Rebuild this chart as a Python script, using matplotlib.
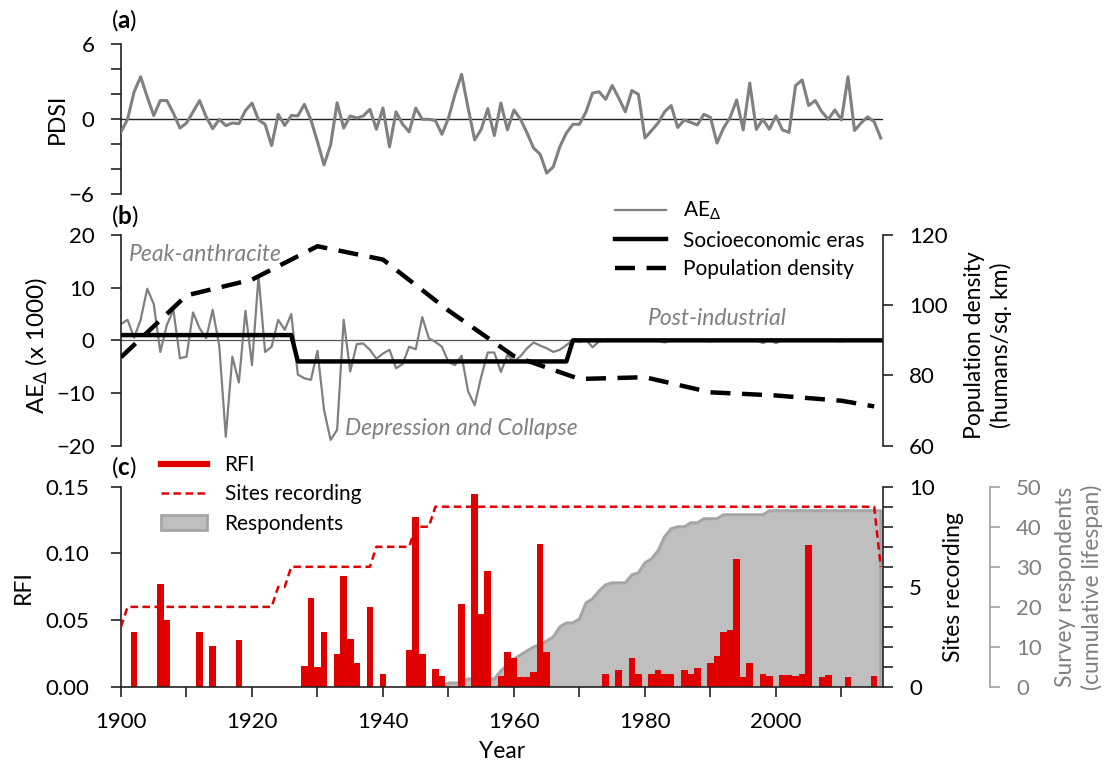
import numpy as np
import matplotlib
matplotlib.use("Agg")
import matplotlib.pyplot as plt
from matplotlib.lines import Line2D
from matplotlib.patches import Patch
from matplotlib.ticker import FixedLocator, MultipleLocator, FormatStrFormatter

plt.rcParams["font.family"] = ["Lato", "DejaVu Sans"]
plt.rcParams["mathtext.fontset"] = "custom"
plt.rcParams["mathtext.rm"] = "Lato"
plt.rcParams["mathtext.bf"] = "Lato:bold"
plt.rcParams["mathtext.it"] = "Lato:italic"

# ----------------------------------------------------
# Data
# ----------------------------------------------------
years = np.arange(1900, 2017)

pdsi = [
    -1.0, 0.0, 2.2, 3.4, 1.8, 0.3, 1.5, 1.5, 0.5, -0.7,          # 1900s
    -0.3, 0.6, 1.5, 0.2, -0.75, 0.0, -0.5, -0.3, -0.35, 0.7,     # 1910s
    1.3, -0.05, -0.4, -2.1, 0.4, -0.5, 0.3, 0.27, 1.2, -0.05,    # 1920s
    -1.8, -3.65, -2.05, 1.33, -0.7, 0.27, 0.1, 0.27, 0.8, -0.8,  # 1930s
    0.9, -2.2, 0.6, -0.4, -1.0, 0.9, 0.0, 0.0, -0.1, -1.2,       # 1940s
    0.1, 2.0, 3.6, 0.9, -1.65, -0.8, 0.85, -1.3, 1.3, -0.85,     # 1950s
    0.75, 0.0, -1.1, -2.3, -2.8, -4.3, -3.8, -2.2, -1.1, -0.4,   # 1960s
    -0.4, 0.6, 2.1, 2.2, 1.6, 2.7, 1.7, 0.6, 2.3, 2.0,           # 1970s
    -1.5, -0.9, -0.3, 0.6, 1.1, -0.65, -0.05, -0.25, -0.45, 0.4, # 1980s
    0.15, -1.9, -0.7, 0.15, 1.55, -0.85, 2.9, -0.8, 0.0, -0.8,   # 1990s
    0.27, -0.85, -1.05, 2.7, 3.15, 1.1, 1.5, 0.6, 0.0, 0.75,     # 2000s
    -0.05, 3.4, -0.9, -0.3, 0.2, -0.2, -1.5,                     # 2010s
]

ae = [
    3.1, 3.9, 0.5, 3.9, 9.8, 6.9, -2.2, 2.9, 5.8, -3.4,          # 1900s
    -3.1, 5.3, 2.3, 0.4, 5.8, -1.0, -18.3, -3.1, -8.0, 5.6,      # 1910s
    -4.7, 12.2, -2.2, -1.2, 3.9, 2.0, 5.0, -6.5, -7.2, -7.5,     # 1920s
    -2.0, -13.2, -18.9, -17.0, 3.9, -5.9, -0.7, -0.6, -1.8, -3.5,# 1930s
    -2.5, -1.8, -5.3, -4.5, -1.2, -1.7, 4.4, 0.4, -0.3, -1.2,    # 1940s
    -4.1, -4.7, -2.9, -9.7, -12.3, -6.9, -2.3, -2.3, -6.0, -2.8, # 1950s
    -4.0, -3.0, -1.5, -0.4, -1.0, -1.5, -2.2, -1.8, -0.9, 0.0,   # 1960s
    -0.3, 0.1, -1.3, -0.2, 0.0, 0.0, -0.1, 0.0, 0.0, -0.1,       # 1970s
    0.0, 0.0, -0.1, -0.4, 0.0, 0.0, -0.1, 0.0, 0.0, -0.1,        # 1980s
    -0.2, 0.0, 0.0, -0.1, 0.0, 0.0, -0.1, 0.0, -0.5, 0.0,        # 1990s
    -0.5, 0.0, 0.0, -0.1, 0.0, 0.0, -0.1, 0.0, 0.0, -0.1,        # 2000s
    -0.2, 0.0, 0.0, -0.1, 0.0, 0.0, 0.0,                         # 2010s
]

era_years = [1900, 1926, 1927, 1968, 1969, 2016]
era_vals = [1.0, 1.0, -4.0, -4.0, 0.0, 0.0]

pop_years = [1900, 1910, 1920, 1930, 1940, 1950, 1960, 1970, 1980, 1990, 2000, 2010, 2015]
pop_vals = [85.2, 102.8, 107.3, 116.8, 113.0, 98.5, 85.5, 79.0, 79.5, 75.2, 74.3, 72.8, 71.2]

rfi_years = [1902, 1906, 1907, 1912, 1914, 1918, 1928, 1929, 1930, 1931,
             1933, 1934, 1935, 1936, 1938, 1940, 1944, 1945, 1946, 1948,
             1949, 1952, 1954, 1955, 1956, 1958, 1959, 1960, 1961, 1962,
             1963, 1964, 1965, 1974, 1976, 1978, 1979, 1981, 1982, 1983,
             1984, 1986, 1987, 1988, 1990, 1991, 1992, 1993, 1994, 1995,
             1996, 1998, 1999, 2001, 2002, 2003, 2004, 2005, 2007, 2008,
             2011, 2015]
rfi_vals = [0.041, 0.077, 0.050, 0.041, 0.031, 0.035, 0.016, 0.067, 0.015, 0.041,
            0.025, 0.083, 0.036, 0.018, 0.060, 0.010, 0.028, 0.127, 0.025, 0.0135,
            0.008, 0.062, 0.1445, 0.055, 0.087, 0.008, 0.026, 0.022, 0.0075, 0.0075,
            0.011, 0.107, 0.026, 0.0095, 0.013, 0.022, 0.0095, 0.0095, 0.013, 0.0098,
            0.010, 0.0125, 0.010, 0.014, 0.018, 0.0235, 0.041, 0.0425, 0.096, 0.0075,
            0.018, 0.0095, 0.008, 0.009, 0.009, 0.008, 0.010, 0.106, 0.0075, 0.009,
            0.0075, 0.008]

site_years = [1900, 1901, 1923, 1924, 1925, 1926, 1938, 1939, 1944, 1945, 1947, 1948, 2015, 2016]
site_vals = [3, 4, 4, 5, 5, 6, 6, 7, 7, 8, 8, 9, 9, 6]

resp_years = list(range(1949, 2017))
resp_vals = [
    0,                                                  # 1949
    1, 1, 1, 2, 2, 2, 2, 2, 4, 5.5,                     # 1950s
    7, 8, 9, 10, 10.5, 11.5, 12.5, 15, 16, 16,          # 1960s
    17, 21, 22, 24, 25.5, 26, 26, 26, 28, 28.5,         # 1970s
    31, 32, 34, 37.5, 39.5, 40, 40, 41, 41, 42,         # 1980s
    42, 42, 43, 43, 43, 43, 43, 43, 43, 44,             # 1990s
    44, 44, 44, 44, 44, 44, 44, 44, 44, 44,             # 2000s
    44, 44, 44, 44, 44, 44, 44,                         # 2010s
]

# ----------------------------------------------------
# Style
# ----------------------------------------------------
GRAY = "#808080"
RED = "#E00000"
AREA = "#BFBFBF"
AREA_EDGE = "#A6A6A6"
TICK_FS = 16
LAB_FS = 16.5
LEG_FS = 15
ITAL_FS = 16.5
W, H = 1110, 767
XLIM = (1900, 2016.3)


def rect(x0, y0, x1, y1):
    return [x0 / W, 1 - y1 / H, (x1 - x0) / W, (y1 - y0) / H]


def ypx(y):
    return 1 - y / H


def style_axis(ax, pad=12):
    ax.tick_params(axis="both", which="both", direction="out", length=7,
                   width=1.2, labelsize=TICK_FS, pad=pad, color="#222222")
    for s in ax.spines.values():
        s.set_linewidth(1.2)
        s.set_color("#222222")


fig = plt.figure(figsize=(W / 100, H / 100), dpi=100)

# ----------------------------------------------------
# (a) PDSI
# ----------------------------------------------------
ax_a = fig.add_axes(rect(121, 44.3, 882.7, 194.3))
ax_a.patch.set_visible(False)
ax_a.plot(years, pdsi, color=GRAY, lw=2.2, zorder=3)
ax_a.axhline(0, color="#222222", lw=1.0, zorder=2)
ax_a.set_xlim(*XLIM)
ax_a.set_ylim(-6, 6)
ax_a.yaxis.set_major_locator(FixedLocator([-6, 0, 6]))
ax_a.yaxis.set_minor_locator(MultipleLocator(2))
for s in ["top", "right", "bottom"]:
    ax_a.spines[s].set_visible(False)
ax_a.set_xticks([])
style_axis(ax_a)

# ----------------------------------------------------
# (b) AE, eras, population
# ----------------------------------------------------
ax_b = fig.add_axes(rect(121, 235, 882.7, 445.7))
ax_b.patch.set_visible(False)
ax_b.axhline(0, color="#555555", lw=0.9, zorder=1)
ax_b.plot(years, ae, color=GRAY, lw=1.6, zorder=2)
ax_b.plot(era_years, era_vals, color="black", lw=3.2, zorder=4)
ax_b.set_xlim(*XLIM)
ax_b.set_ylim(-20, 20)
ax_b.set_yticks([-20, -10, 0, 10, 20])
for s in ["top", "right", "bottom"]:
    ax_b.spines[s].set_visible(False)
ax_b.set_xticks([])
style_axis(ax_b)

ax_bp = ax_b.twinx()
ax_bp.plot(pop_years, pop_vals, color="black", lw=3.2, dashes=(4.5, 2.6), zorder=3)
ax_bp.set_xlim(*XLIM)
ax_bp.set_ylim(60, 120)
ax_bp.set_yticks([60, 80, 100, 120])
for s in ["top", "left", "bottom"]:
    ax_bp.spines[s].set_visible(False)
style_axis(ax_bp)

ax_b.text(1901.2, 16.3, "Peak-anthracite", color=GRAY, style="italic",
          fontsize=ITAL_FS, va="center", ha="left")
ax_b.text(1934.2, -16.7, "Depression and Collapse", color=GRAY, style="italic",
          fontsize=ITAL_FS, va="center", ha="left")
ax_b.text(1980.4, 4.2, "Post-industrial", color=GRAY, style="italic",
          fontsize=ITAL_FS, va="center", ha="left")

leg_b = [
    Line2D([], [], color=GRAY, lw=1.6),
    Line2D([], [], color="black", lw=3.2),
    Line2D([], [], color="black", lw=3.2, dashes=(4.5, 2.6)),
]
fig.legend(leg_b, [r"AE$_{\Delta}$", "Socioeconomic eras", "Population density"],
           loc="upper left", bbox_to_anchor=(615 / W, ypx(200)), frameon=False,
           fontsize=LEG_FS, handlelength=2.45, handletextpad=0.8,
           labelspacing=0.4, borderpad=0, borderaxespad=0)

# ----------------------------------------------------
# (c) RFI, sites, respondents
# ----------------------------------------------------
ax_c = fig.add_axes(rect(121, 486.7, 882.7, 687))
ax_cr = ax_c.twinx()
ax_cs = ax_c.twinx()
ax_cr.set_zorder(1)
ax_c.set_zorder(2)
ax_cs.set_zorder(3)
for a in (ax_c, ax_cr, ax_cs):
    a.patch.set_visible(False)

ax_cr.fill_between(resp_years, resp_vals, 0, facecolor=AREA, edgecolor="none")
ax_cr.plot(resp_years + [resp_years[-1]], resp_vals + [0], color=AREA_EDGE, lw=2.2)
ax_cr.set_ylim(0, 50)
ax_cr.set_yticks(range(0, 51, 10))
for s in ["top", "left", "bottom"]:
    ax_cr.spines[s].set_visible(False)
ax_cr.spines["right"].set_position(("axes", (989.8 - 121) / (882.7 - 121)))
style_axis(ax_cr)
ax_cr.spines["right"].set_color("#A0A0A0")
ax_cr.tick_params(axis="y", colors="#A0A0A0", labelcolor=GRAY)

ax_c.bar(rfi_years, rfi_vals, width=1.0, color=RED, linewidth=0)
ax_c.set_xlim(*XLIM)
ax_c.set_ylim(0, 0.15)
ax_c.set_yticks([0, 0.05, 0.10, 0.15])
ax_c.yaxis.set_major_formatter(FormatStrFormatter("%.2f"))
ax_c.set_xticks(range(1900, 2001, 20))
ax_c.xaxis.set_minor_locator(FixedLocator(range(1910, 2011, 20)))
for s in ["top", "right"]:
    ax_c.spines[s].set_visible(False)
style_axis(ax_c, pad=16)
ax_c.tick_params(axis="x", pad=11)

ax_cs.plot(site_years, site_vals, color=RED, lw=1.8, dashes=(3.0, 1.8))
ax_cs.set_xlim(*XLIM)
ax_cs.set_ylim(0, 10)
ax_cs.set_yticks([0, 5, 10])
ax_cs.yaxis.set_minor_locator(MultipleLocator(1))
for s in ["top", "left", "bottom"]:
    ax_cs.spines[s].set_visible(False)
style_axis(ax_cs)

leg_c = [
    Line2D([], [], color=RED, lw=4.5),
    Line2D([], [], color=RED, lw=1.8, dashes=(3.0, 1.8)),
    Patch(facecolor=AREA, edgecolor=AREA_EDGE, lw=2),
]
fig.legend(leg_c, ["RFI", "Sites recording", "Respondents"],
           loc="upper left", bbox_to_anchor=(161 / W, ypx(455)), frameon=False,
           fontsize=LEG_FS, handlelength=2.2, handletextpad=0.85,
           labelspacing=0.45, borderpad=0, borderaxespad=0)

# ----------------------------------------------------
# Labels
# ----------------------------------------------------
fig.text(57 / W, ypx(119), "PDSI", rotation=90, fontsize=LAB_FS, ha="center", va="center")
fig.text(37 / W, ypx(345), r"AE$_{\Delta}$ (x 1000)", rotation=90, fontsize=17.5,
         ha="center", va="center")
fig.text(23 / W, ypx(587), "RFI", rotation=90, fontsize=LAB_FS, ha="center", va="center")
fig.text(988 / W, ypx(345), "Population density\n(humans/sq. km)", rotation=90,
         fontsize=LAB_FS, ha="center", va="center", linespacing=1.3)
fig.text(954 / W, ypx(587), "Sites recording", rotation=90, fontsize=LAB_FS,
         ha="center", va="center")
fig.text(1079 / W, ypx(587), "Survey respondents\n(cumulative lifespan)", rotation=90,
         fontsize=LAB_FS, ha="center", va="center", color=GRAY, linespacing=1.3)
fig.text(502 / W, ypx(752), "Year", fontsize=LAB_FS, ha="center", va="center")

for lab, yc in [("a", 20), ("b", 216), ("c", 467)]:
    fig.text(111 / W, ypx(yc), "(" + r"$\mathbf{" + lab + "}$" + ")",
             fontsize=17.5, ha="left", va="center")

fig.savefig("out.png", dpi=100, facecolor="white")
